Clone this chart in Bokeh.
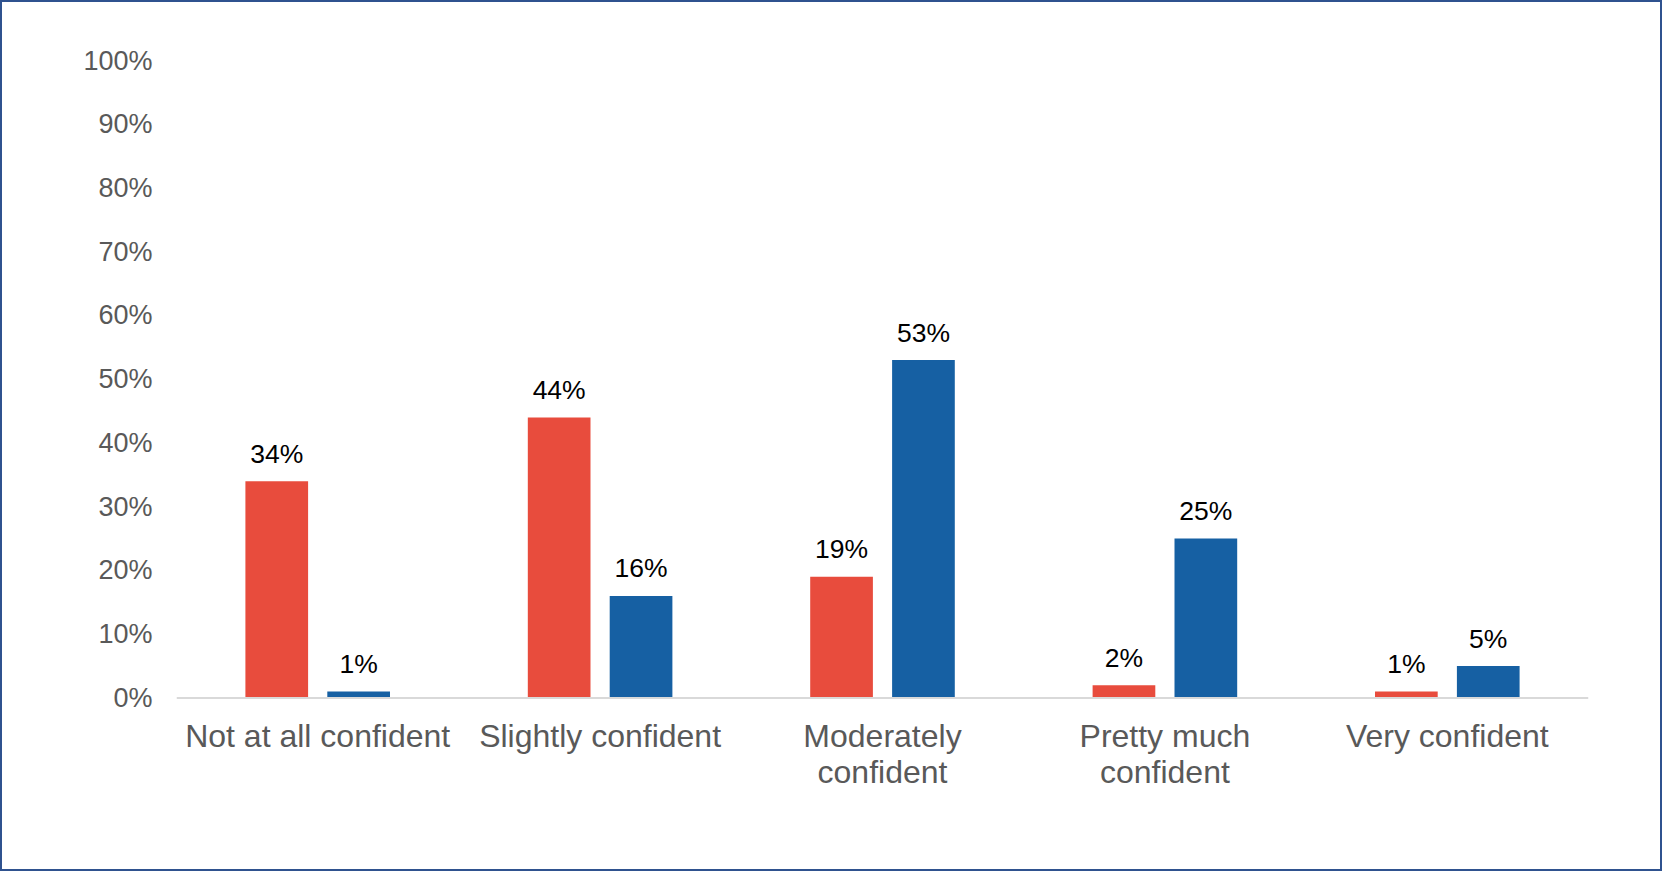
from bokeh.plotting import figure
from bokeh.models import Range1d, FactorRange, ColumnDataSource, FixedTicker, NumeralTickFormatter, Span
from bokeh.transform import dodge
from bokeh.core.properties import value
from bokeh.embed import file_html
from bokeh.resources import INLINE

categories = ["Not at all confident", "Slightly confident", "Moderately confident",
              "Pretty much confident", "Very confident"]
label_line1 = ["Not at all confident", "Slightly confident", "Moderately",
               "Pretty much", "Very confident"]
label_line2 = ["", "", "confident", "confident", ""]
series_a = [34, 44, 19, 2, 1]
series_b = [1, 16, 53, 25, 5]
y_ticks = [0, 10, 20, 30, 40, 50, 60, 70, 80, 90, 100]

RED = "#E84C3D"
BLUE = "#1660A3"
GRAY = "#595959"
FONT = "Liberation Sans"

src = ColumnDataSource(dict(
    cat=categories,
    a=[v / 100 for v in series_a],
    b=[v / 100 for v in series_b],
    a_lbl=[f"{v}%" for v in series_a],
    b_lbl=[f"{v}%" for v in series_b],
    l1=label_line1,
    l2=label_line2,
    zero=[0] * len(categories),
))

# plot geometry: 0% sits 168.6px above the frame bottom, 100% at the frame top
px_per_unit = 637.4
below = 168.6 / px_per_unit

p = figure(width=1662, height=871, output_backend="svg", toolbar_location=None,
           x_range=FactorRange(*categories, range_padding=0),
           y_range=Range1d(-below, 1.0),
           min_border_left=174, min_border_right=76, min_border_top=58, min_border_bottom=7)
p.styles = {"border": "2px solid #2F528F", "box-sizing": "border-box"}
p.outline_line_color = None
p.xgrid.grid_line_color = None
p.ygrid.grid_line_color = None
p.xaxis.visible = False

# category axis line
p.add_layout(Span(location=0, dimension="width", line_color="#D9D9D9", line_width=2))

off = 0.145
w = 0.222
p.vbar(x=dodge("cat", -off, range=p.x_range), top="a", width=w, source=src,
       fill_color=RED, line_color=None)
p.vbar(x=dodge("cat", off, range=p.x_range), top="b", width=w, source=src,
       fill_color=BLUE, line_color=None)

lbl = dict(source=src, text_align="center", text_baseline="alphabetic",
           text_font=value(FONT), text_font_size="26.5px", text_color="#000000")
p.text(x=dodge("cat", -off, range=p.x_range), y="a", text="a_lbl", y_offset=-27.5, **lbl)
p.text(x=dodge("cat", off, range=p.x_range), y="b", text="b_lbl", y_offset=-27.5, **lbl)

# category labels
cl = dict(source=src, text_align="center", text_baseline="alphabetic",
          text_font=value(FONT), text_font_size="32px", text_color=GRAY)
p.text(x="cat", y="zero", text="l1", y_offset=38, **cl)
p.text(x="cat", y="zero", text="l2", y_offset=74, **cl)

# y axis
p.yaxis.ticker = FixedTicker(ticks=[t / 100 for t in y_ticks])
p.yaxis.formatter = NumeralTickFormatter(format="0%")
p.yaxis.axis_line_color = None
p.yaxis.major_tick_line_color = None
p.yaxis.minor_tick_line_color = None
p.yaxis.major_tick_out = 0
p.yaxis.major_label_standoff = 24
p.yaxis.major_label_text_font = FONT
p.yaxis.major_label_text_font_size = "27px"
p.yaxis.major_label_text_color = GRAY

open("out.html", "w").write(file_html(p, INLINE))
